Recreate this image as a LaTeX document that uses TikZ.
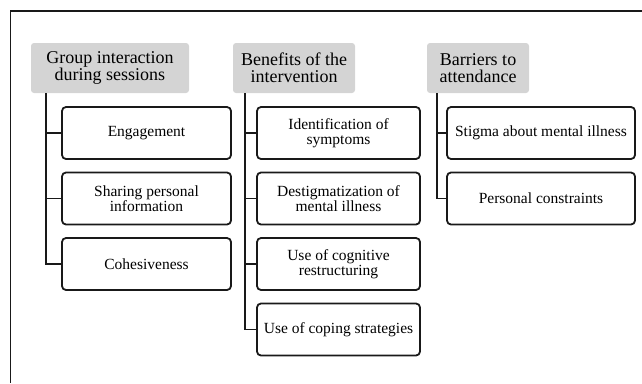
\documentclass[tikz,border=0pt]{standalone}
\usepackage{fontspec}
\setmainfont{Liberation Serif}
\begin{document}
\begin{tikzpicture}[x=1pt,y=-1pt]
	\tikzstyle{header} = [fill=black!17, rounded corners=3pt, minimum height=50pt, align=center, inner sep=0pt, font=\fontsize{18}{17}\selectfont];
	\tikzstyle{item} = [draw=black!90, line width=1.8pt, rounded corners=4pt, minimum height=52pt, align=center, inner sep=0pt, font=\fontsize{15.5}{15}\selectfont];
	\tikzstyle{link} = [draw=black!90, line width=1.8pt];
	\def\gap{65.5};
	\def\colA{Engagement,{Sharing personal\\information},Cohesiveness};
	\def\colB{{Identification of\\symptoms},{Destigmatization of\\mental illness},{Use of cognitive\\restructuring},Use of coping strategies};
	\def\colC{Stigma about mental illness,Personal constraints};
	\useasboundingbox (0,0) rectangle (642,383);
	\draw[line width=1.2pt, black!90] (642,11) -- (10.5,11) -- (10.5,383);
	% headers
	\node[header, minimum width=158pt] (hdrA) at (110,68) {Group interaction\\during sessions};
	\node[header, minimum width=122pt] (hdrB) at (294,68) {Benefits of the\\intervention};
	\node[header, minimum width=102pt] (hdrC) at (478,68) {Barriers to\\attendance};
	\coordinate (trunkA) at ([xshift=15pt]hdrA.south west);
	\coordinate (trunkB) at ([xshift=12pt]hdrB.south west);
	\coordinate (trunkC) at ([xshift=10pt]hdrC.south west);
	% first column
	\foreach \txt [count=\i] in \colA
	{
		\node[item, minimum width=169pt] (itemA\i) at (146.5,133+\gap*\i-\gap) {\txt};
		\draw[link] (trunkA) |- (itemA\i.west);
	}
	% second column
	\foreach \txt [count=\i] in \colB
	{
		\node[item, minimum width=163pt] (itemB\i) at (338.5,133+\gap*\i-\gap) {\txt};
		\draw[link] (trunkB) |- (itemB\i.west);
	}
	% third column
	\foreach \txt [count=\i] in \colC
	{
		\node[item, minimum width=188pt] (itemC\i) at (541,133+\gap*\i-\gap) {\txt};
		\draw[link] (trunkC) |- (itemC\i.west);
	}
\end{tikzpicture}
\end{document}
